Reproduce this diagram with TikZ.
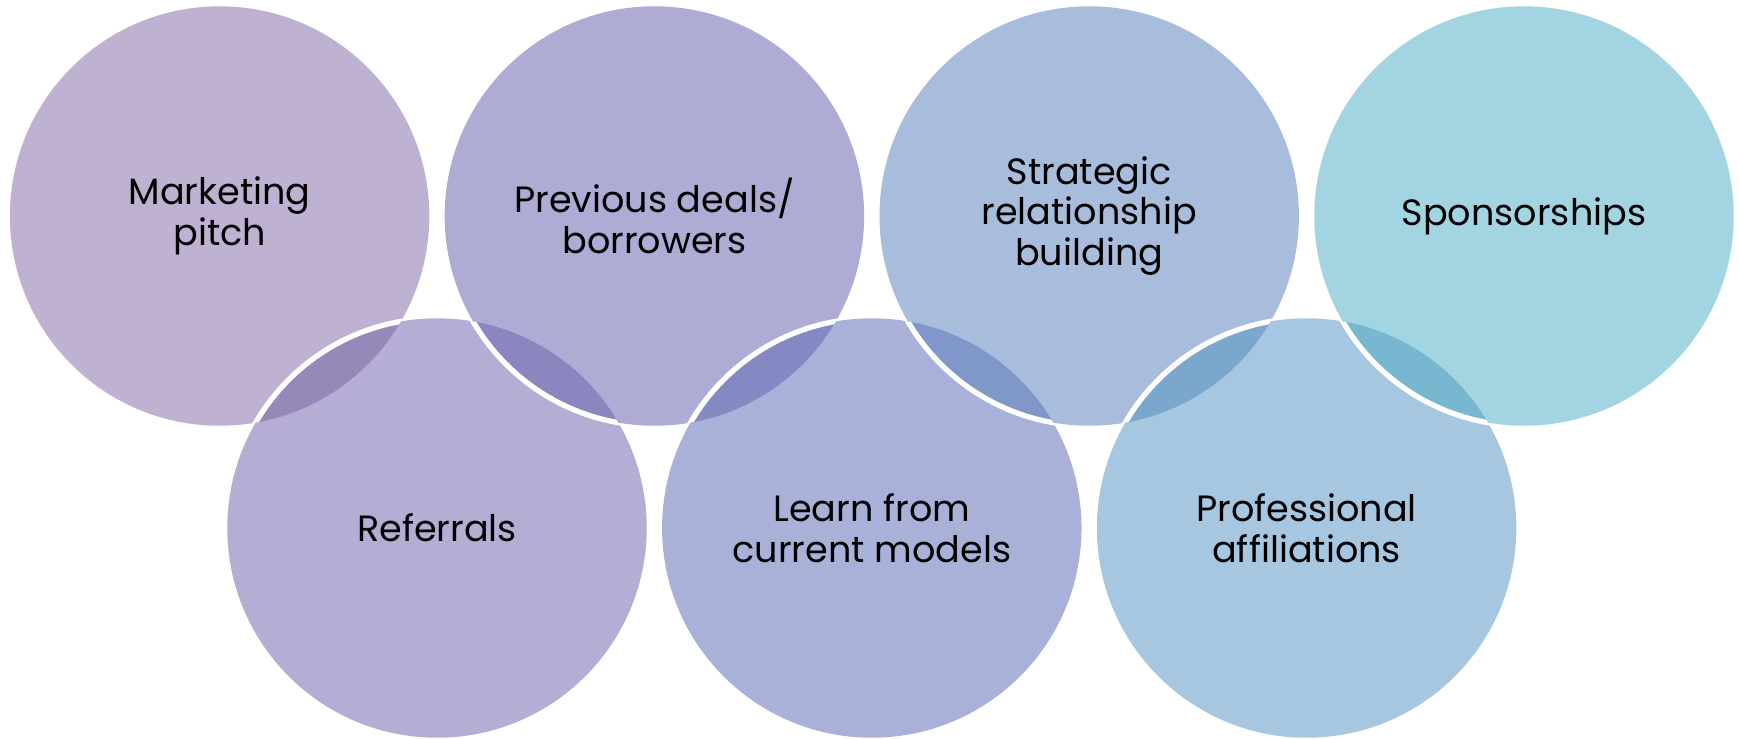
\documentclass[tikz,border=0pt]{standalone}
\usepackage{fontspec}
\setmainfont{Poppins}
\definecolor{cA}{RGB}{191,177,209}
\definecolor{cB}{RGB}{181,173,211}
\definecolor{cC}{RGB}{174,171,213}
\definecolor{cD}{RGB}{169,177,216}
\definecolor{cE}{RGB}{168,189,219}
\definecolor{cF}{RGB}{167,198,224}
\definecolor{cG}{RGB}{163,212,225}
\definecolor{lA}{RGB}{150,137,186}
\definecolor{lB}{RGB}{139,133,192}
\definecolor{lC}{RGB}{132,137,195}
\definecolor{lD}{RGB}{128,152,201}
\definecolor{lE}{RGB}{123,166,205}
\definecolor{lF}{RGB}{119,184,208}
\tikzset{
  lbl/.style={align=center, text=black, font=\fontsize{10.4}{11.5}\selectfont, inner sep=0pt},
  ring/.style={draw=white, line width=1.5pt}
}
\begin{document}
\begin{tikzpicture}[x=0.01cm,y=-0.01cm]
\def\R{2.096cm}
\useasboundingbox (0,0) rectangle (1739,738);
\coordinate (c0) at (219.6,216);
\coordinate (c1) at (437,528);
\coordinate (c2) at (654.4,216);
\coordinate (c3) at (871.8,528);
\coordinate (c4) at (1089.2,216);
\coordinate (c5) at (1306.6,528);
\coordinate (c6) at (1524,216);
% fills
\fill[cA] (c0) circle[radius=\R];
\fill[cB] (c1) circle[radius=\R];
\fill[cC] (c2) circle[radius=\R];
\fill[cD] (c3) circle[radius=\R];
\fill[cE] (c4) circle[radius=\R];
\fill[cF] (c5) circle[radius=\R];
\fill[cG] (c6) circle[radius=\R];
% lenses
\foreach \a/\b/\col in {0/1/lA,1/2/lB,2/3/lC,3/4/lD,4/5/lE,5/6/lF}{
  \begin{scope}
    \clip (c\a) circle[radius=\R];
    \fill[\col] (c\b) circle[radius=\R];
  \end{scope}
}
% white arcs: boundary of the right ring inside the left ring
\foreach \a/\b in {0/1,1/2,2/3,3/4,4/5,5/6}{
  \begin{scope}
    \clip (c\a) circle[radius=\R];
    \draw[ring] (c\b) circle[radius=\R];
  \end{scope}
}
% labels
\node[lbl] (t0) at (c0) {Marketing\\pitch};
\node[lbl] (t1) at (c1) {Referrals};
\node[lbl] (t2) at (c2) {Previous deals/\\borrowers};
\node[lbl] (t3) at (c3) {Learn from\\current models};
\node[lbl] (t4) at (c4) {Strategic\\relationship\\building};
\node[lbl] (t5) at (c5) {Professional\\affiliations};
\node[lbl] (t6) at (c6) {Sponsorships};
\end{tikzpicture}
\end{document}
